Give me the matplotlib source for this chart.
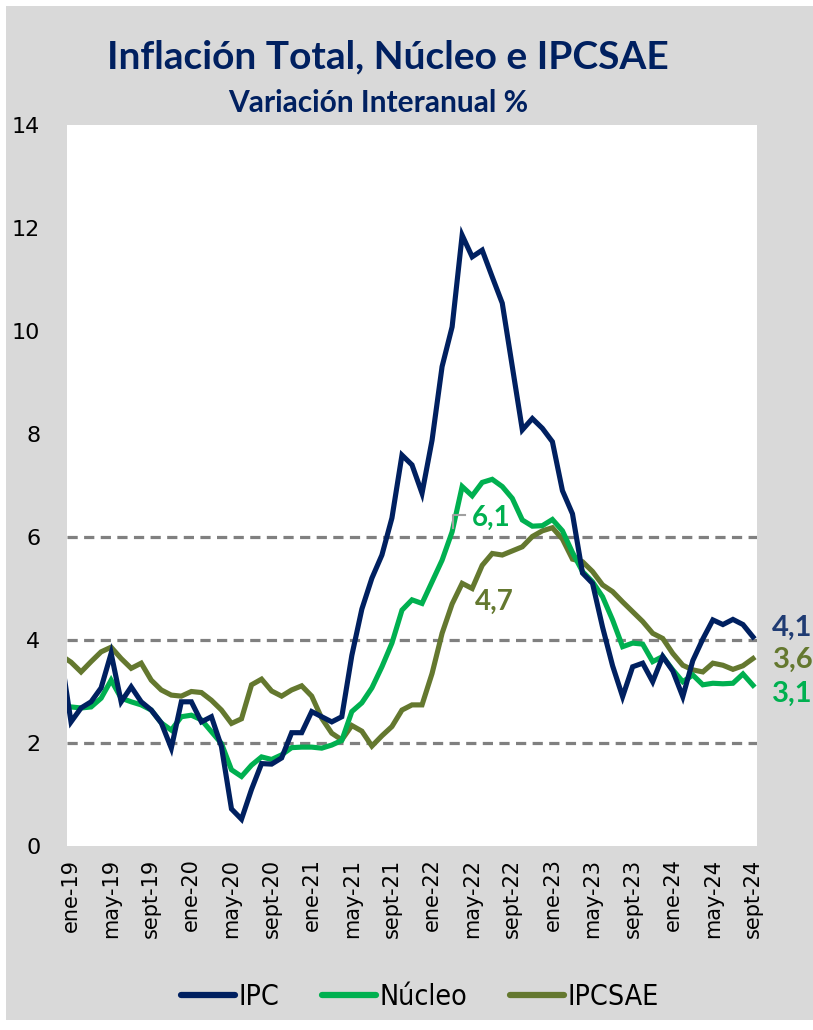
import numpy as np
import matplotlib
matplotlib.use("Agg")
import matplotlib.pyplot as plt
from matplotlib.patches import Rectangle
from matplotlib.lines import Line2D

# ---------------- data (dic-18 .. sept-24) ----------------
ipc = [3.70,
       2.41, 2.68, 2.80, 3.07, 3.74, 2.80, 3.09, 2.80, 2.64, 2.39, 1.90, 2.80,
       2.80, 2.41, 2.51, 1.93, 0.72, 0.52, 1.10, 1.60, 1.59, 1.71, 2.20, 2.20,
       2.61, 2.51, 2.41, 2.51, 3.70, 4.60, 5.20, 5.65, 6.37, 7.59, 7.40, 6.85,
       7.88, 9.31, 10.08, 11.86, 11.44, 11.57, 11.05, 10.54, 9.31, 8.08, 8.30, 8.11,
       7.85, 6.90, 6.45, 5.30, 5.10, 4.25, 3.50, 2.90, 3.48, 3.55, 3.19, 3.68,
       3.40, 2.90, 3.60, 4.02, 4.39, 4.30, 4.40, 4.30, 4.06]
nucleo = [2.75,
          2.70, 2.68, 2.70, 2.87, 3.22, 2.87, 2.80, 2.74, 2.64, 2.39, 2.25, 2.51,
          2.54, 2.45, 2.22, 1.99, 1.48, 1.35, 1.57, 1.73, 1.68, 1.77, 1.91, 1.92,
          1.92, 1.90, 1.96, 2.05, 2.61, 2.78, 3.07, 3.48, 3.94, 4.58, 4.78, 4.71,
          5.13, 5.55, 6.10, 6.98, 6.80, 7.06, 7.12, 6.98, 6.75, 6.33, 6.21, 6.22,
          6.34, 6.12, 5.70, 5.33, 5.13, 4.84, 4.39, 3.87, 3.94, 3.92, 3.58, 3.68,
          3.42, 3.19, 3.32, 3.13, 3.16, 3.15, 3.16, 3.34, 3.12]
ipcsae = [3.70,
          3.57, 3.38, 3.58, 3.77, 3.86, 3.64, 3.45, 3.55, 3.22, 3.03, 2.93, 2.91,
          3.00, 2.98, 2.83, 2.64, 2.38, 2.47, 3.13, 3.24, 3.01, 2.91, 3.03, 3.11,
          2.91, 2.48, 2.19, 2.06, 2.34, 2.23, 1.94, 2.14, 2.32, 2.64, 2.74, 2.74,
          3.35, 4.13, 4.70, 5.10, 5.00, 5.45, 5.68, 5.65, 5.73, 5.81, 6.01, 6.12,
          6.18, 5.96, 5.57, 5.52, 5.33, 5.07, 4.94, 4.74, 4.55, 4.36, 4.13, 4.03,
          3.74, 3.51, 3.42, 3.38, 3.55, 3.51, 3.43, 3.50, 3.64]
tick_labels = ["ene-19", "may-19", "sept-19", "ene-20", "may-20", "sept-20",
               "ene-21", "may-21", "sept-21", "ene-22", "may-22", "sept-22",
               "ene-23", "may-23", "sept-23", "ene-24", "may-24", "sept-24"]
ref_lines = [2, 4, 6]
series_names = ["IPC", "Núcleo", "IPCSAE"]

# ---------------- style ----------------
C_IPC = "#002060"
C_NUC = "#00b050"
C_SAE = "#64782f"
NAVY_TXT = "#002060"
BG = "#d9d9d9"

W, H = 813, 1030
fig = plt.figure(figsize=(W / 100, H / 100), dpi=100)
fig.patch.set_facecolor("white")
fig.patches.append(Rectangle((6 / W, 10 / H), (W - 6) / W, (1024 - 10) / H,
                             transform=fig.transFigure, facecolor=BG,
                             edgecolor="none", zorder=-10))

ax = fig.add_axes([66.7 / W, 1 - 846 / H, (757 - 66.7) / W, (846 - 125) / H])
ax.set_facecolor("white")

x = np.arange(-1, len(ipc) - 1)

for yv in ref_lines:
    ax.axhline(yv, color="#808080", lw=2.3, linestyle=(0, (3.2, 2.0)), zorder=1)

ax.plot(x, ipc, color=C_IPC, lw=3.7, zorder=4, solid_joinstyle="miter")
ax.plot(x, nucleo, color=C_NUC, lw=3.7, zorder=3, solid_joinstyle="miter")
ax.plot(x, ipcsae, color=C_SAE, lw=3.7, zorder=2, solid_joinstyle="miter")

ax.set_xlim(-0.43, 68.4)
ax.set_ylim(0, 14)
ax.set_yticks(np.arange(0, 15, 2))
ax.set_yticklabels([str(v) for v in range(0, 15, 2)], fontsize=16,
                   family="DejaVu Sans")
ticks = np.arange(0, 69, 4)
ax.set_xticks(ticks)
ax.set_xticklabels(tick_labels, rotation=90, fontsize=15,
                   family="DejaVu Sans", va="top", ha="center")
ax.tick_params(axis="y", length=0, pad=19)
ax.tick_params(axis="x", length=0, pad=9)
for s in ax.spines.values():
    s.set_visible(False)

# annotations inside plot
ax.annotate("6,1", xy=(41.9, 6.37), ha="center", va="center", color=C_NUC,
            fontsize=20, family="Lato", fontweight="bold", zorder=6)
ax.annotate("4,7", xy=(42.2, 4.74), ha="center", va="center", color=C_SAE,
            fontsize=20, family="Lato", fontweight="bold", zorder=6)
ax.plot([38.1, 38.1, 39.3], [6.17, 6.43, 6.43], color="#a0a0a0", lw=1.5,
        zorder=6)

# end labels
ax.annotate("4,1", xy=(69.85, 4.23), ha="left", va="center", color="#1f3b73",
            fontsize=21, family="Lato", fontweight="bold", annotation_clip=False)
ax.annotate("3,6", xy=(70.0, 3.61), ha="left", va="center", color=C_SAE,
            fontsize=21, family="Lato", fontweight="bold", annotation_clip=False)
ax.annotate("3,1", xy=(69.85, 2.95), ha="left", va="center", color=C_NUC,
            fontsize=21, family="Lato", fontweight="bold", annotation_clip=False)

# titles
fig.text(388 / W, 1 - 57 / H, "Inflación Total, Núcleo e IPCSAE", ha="center",
         va="center", color=NAVY_TXT, fontsize=28, family="Lato",
         fontweight="bold")
fig.text(378 / W, 1 - 103 / H, "Variación Interanual %", ha="center",
         va="center", color=NAVY_TXT, fontsize=21.5, family="Lato",
         fontweight="bold")

# legend
handles = [Line2D([0], [0], color=c, lw=4.5, solid_capstyle="round")
           for c in (C_IPC, C_NUC, C_SAE)]
leg = fig.legend(handles, series_names, loc="center",
                 bbox_to_anchor=(420 / W, 1 - 997 / H), ncol=3, frameon=False,
                 prop={"family": "DejaVu Sans", "stretch": "condensed",
                       "size": 20.5},
                 handlelength=1.9, handletextpad=0.12, columnspacing=1.5)

fig.savefig("out.png", dpi=100, facecolor=fig.get_facecolor())
